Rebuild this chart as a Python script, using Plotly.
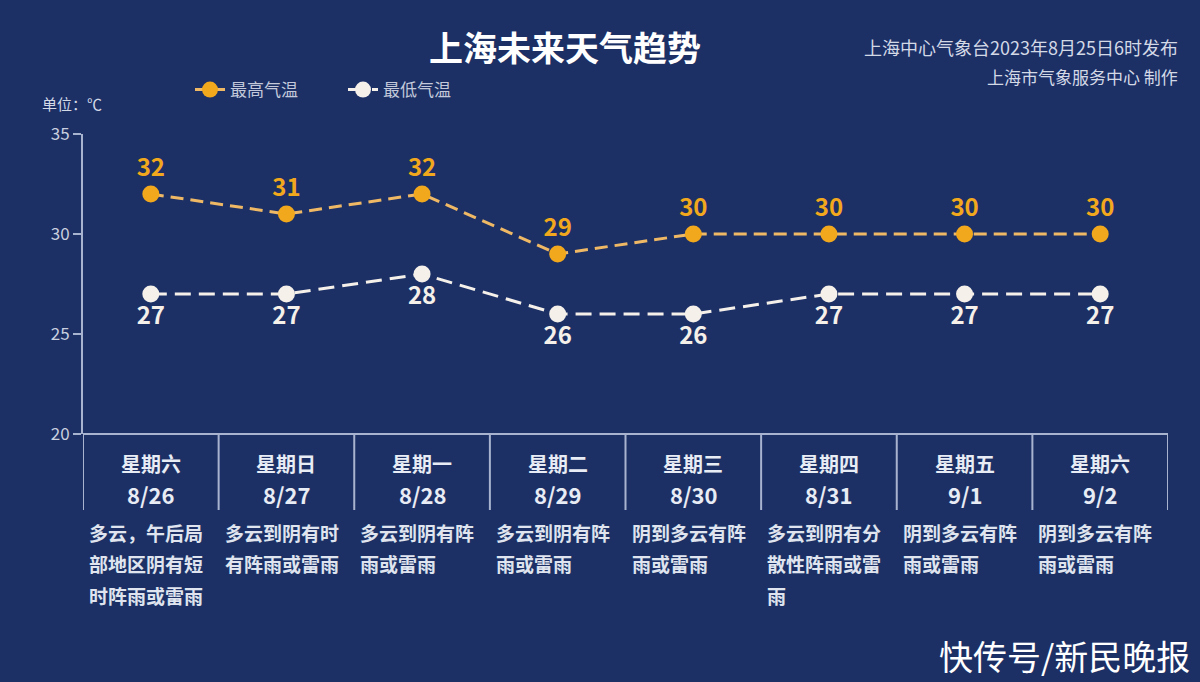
import plotly.graph_objects as go

weekdays = ["星期六", "星期日", "星期一", "星期二", "星期三", "星期四", "星期五", "星期六"]
dates = ["8/26", "8/27", "8/28", "8/29", "8/30", "8/31", "9/1", "9/2"]
high_temp = [32, 31, 32, 29, 30, 30, 30, 30]
low_temp = [27, 27, 28, 26, 26, 27, 27, 27]
weather = [
    "多云，午后局部地区阴有短时阵雨或雷雨",
    "多云到阴有时有阵雨或雷雨",
    "多云到阴有阵雨或雷雨",
    "多云到阴有阵雨或雷雨",
    "阴到多云有阵雨或雷雨",
    "多云到阴有分散性阵雨或雷雨",
    "阴到多云有阵雨或雷雨",
    "阴到多云有阵雨或雷雨",
]
y_ticks = [20, 25, 30, 35]

FONT = "Noto Sans CJK SC"
BG = "#1c3066"
ORANGE = "#f2a81d"
ORANGE_LINE = "#efb865"
WHITE = "#f5f0ea"
AXIS = "#a8b3cf"

x = list(range(len(dates)))

fig = go.Figure()
fig.add_trace(go.Scatter(
    x=x, y=high_temp, mode="lines+markers+text", name="最高气温",
    line=dict(color=ORANGE_LINE, width=3, dash="13px,7px"),
    marker=dict(color=ORANGE, size=17, line=dict(width=0)),
    text=[str(v) for v in high_temp], textposition="top center",
    textfont=dict(family=FONT, size=24, color=ORANGE, weight="bold"),
    cliponaxis=False,
))
fig.add_trace(go.Scatter(
    x=x, y=low_temp, mode="lines+markers+text", name="最低气温",
    line=dict(color=WHITE, width=3, dash="16px,8px"),
    marker=dict(color=WHITE, size=17, line=dict(width=0)),
    text=[str(v) for v in low_temp], textposition="bottom center",
    textfont=dict(family=FONT, size=24, color=WHITE, weight="bold"),
    cliponaxis=False,
))

W, H = 1200, 682
ml, mr, mt, mb = 83, 32, 134, 248
pw, ph = W - ml - mr, H - mt - mb


def px(xp):
    return (xp - ml) / pw


def py(yp):
    return (H - mb - yp) / ph


annotations = []
n = len(dates)
for i in range(n):
    annotations.append(dict(
        x=i, y=py(463), xref="x", yref="paper", text=weekdays[i], showarrow=False,
        font=dict(family=FONT, size=20, color="#e8ecf4", weight="bold"),
        xanchor="center", yanchor="middle"))
    annotations.append(dict(
        x=i, y=py(494), xref="x", yref="paper", text=dates[i], showarrow=False,
        font=dict(family=FONT, size=22, color="#e8ecf4", weight="bold"),
        xanchor="center", yanchor="middle"))
    desc = weather[i]
    lines = [desc[k:k + 6] for k in range(0, len(desc), 6)]
    for j, ln in enumerate(lines):
        annotations.append(dict(
            x=i - 0.5, y=py(532 + j * 31.5), xref="x", yref="paper", text=ln,
            showarrow=False, xshift=4,
            font=dict(family=FONT, size=19, color="#dfe4ee", weight="bold"),
            xanchor="left", yanchor="middle"))

annotations += [
    dict(x=px(565), y=py(46), xref="paper", yref="paper", text="上海未来天气趋势",
         showarrow=False, xanchor="center", yanchor="middle",
         font=dict(family=FONT, size=34, color="white", weight="bold")),
    dict(x=px(1180), y=py(47), xref="paper", yref="paper",
         text="上海中心气象台2023年8月25日6时发布", showarrow=False,
         xanchor="right", yanchor="middle",
         font=dict(family=FONT, size=18, color="#d4d9e6")),
    dict(x=px(1180), y=py(76), xref="paper", yref="paper",
         text="上海市气象服务中心 制作", showarrow=False,
         xanchor="right", yanchor="middle",
         font=dict(family=FONT, size=17, color="#d4d9e6")),
    dict(x=px(40), y=py(103), xref="paper", yref="paper",
         text="单位：℃", showarrow=False, xanchor="left", yanchor="middle",
         font=dict(family=FONT, size=15, color="#d4d9e6")),
    dict(x=px(1192), y=py(655), xref="paper", yref="paper",
         text="快传号/新民晚报", showarrow=False, xanchor="right", yanchor="middle",
         font=dict(family=FONT, size=34, color="white")),
]

shapes = []
for i in range(n + 1):
    shapes.append(dict(type="line", xref="x", yref="paper", x0=i - 0.5, x1=i - 0.5,
                       y0=0, y1=py(510), line=dict(color=AXIS, width=2)))
shapes.append(dict(type="line", xref="paper", yref="paper", x0=0, x1=1,
                   y0=0, y1=0, line=dict(color=AXIS, width=2)))

fig.update_layout(
    width=W, height=H,
    margin=dict(l=ml, r=mr, t=mt, b=mb),
    paper_bgcolor=BG, plot_bgcolor=BG,
    showlegend=True,
    legend=dict(orientation="h", x=px(190), y=py(90), xanchor="left", yanchor="middle",
                entrywidth=108, entrywidthmode="pixels", bgcolor="rgba(0,0,0,0)",
                font=dict(family=FONT, size=17, color="#c3c9da"), itemclick=False),
    xaxis=dict(range=[-0.5, n - 0.5], showticklabels=False, showgrid=False,
               zeroline=False, showline=False, ticks=""),
    yaxis=dict(range=[20, 35], tickvals=y_ticks, showgrid=False, zeroline=False,
               showline=True, linecolor=AXIS, linewidth=2, ticks="outside",
               ticklen=8, tickcolor=AXIS, tickwidth=2,
               tickfont=dict(family=FONT, size=17, color="#c9cfdf")),
    annotations=annotations,
    shapes=shapes,
)

fig.write_html("out.html")
